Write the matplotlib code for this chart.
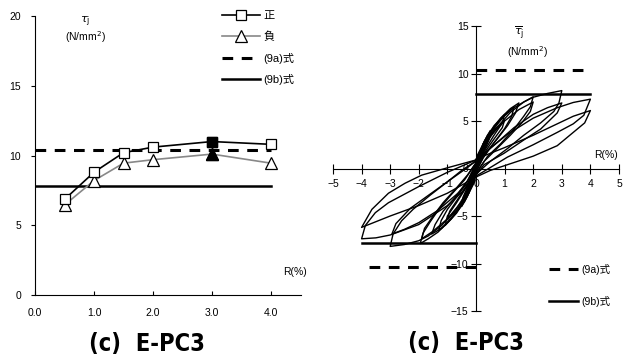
import matplotlib
matplotlib.use('Agg')
import matplotlib.pyplot as plt

plt.rcParams['font.family'] = ['Liberation Sans', 'Noto Sans CJK JP', 'DejaVu Sans']
plt.rcParams['font.size'] = 7.5

# left chart: joint shear stress vs drift
R_levels = [0.5, 1.0, 1.5, 2.0, 3.0, 4.0]
tau_pos = [6.85, 8.8, 10.2, 10.6, 11.0, 10.8]
tau_neg = [6.45, 8.2, 9.45, 9.7, 10.1, 9.45]
max_idx = 4          # filled marker (max. point)

eq_9a = 10.4
eq_9b = 7.8
eq_R = [0.0, 4.0]

# right chart: hysteresis loops, (R, tau)
# each cycle: + loading, + unloading, - loading, - unloading
loop_025 = [(0, 0), (0.1, 1.3), (0.2, 2.2), (0.25, 2.6), (0.2, 1.9), (0.1, 0.9), (0, 0),
            (-0.1, -1.3), (-0.2, -2.2), (-0.25, -2.6), (-0.2, -1.9), (-0.1, -0.9), (0, 0)]
loop_05a = [(0, 0), (0.15, 1.7), (0.3, 2.9), (0.5, 4.0), (0.45, 3.3), (0.25, 1.8), (0, 0),
            (-0.15, -1.7), (-0.3, -2.9), (-0.5, -4.0), (-0.45, -3.3), (-0.25, -1.8), (0, 0)]
loop_05b = [(0, 0), (0.15, 1.5), (0.3, 2.6), (0.5, 3.6), (0.45, 3.0), (0.25, 1.6), (0, 0),
            (-0.15, -1.5), (-0.3, -2.6), (-0.5, -3.6), (-0.45, -3.0), (-0.25, -1.6), (0, 0)]
loop_10a = [(0, 0.4), (0.28, 2.8), (0.63, 4.5), (1.0, 5.7),
            (0.92, 4.8), (0.63, 3.5), (0.28, 1.8), (0, 0.0),
            (-0.3, -2.9), (-0.68, -4.7), (-1.08, -6.0),
            (-1.0, -5.0), (-0.68, -3.6), (-0.3, -1.8), (0, 0.3)]
loop_10b = [(0, 0.3), (0.3, 2.6), (0.65, 4.1), (1.0, 5.1),
            (0.92, 4.3), (0.63, 3.1), (0.28, 1.6), (0, -0.1),
            (-0.3, -2.7), (-0.65, -4.3), (-1.0, -5.4),
            (-0.92, -4.5), (-0.63, -3.2), (-0.28, -1.6), (0, 0.4)]
loop_15a = [(0, 0.5), (0.05, 1.4), (0.4, 3.5), (0.86, 5.3), (1.2, 6.3), (1.5, 6.9),
            (1.38, 5.85), (1.1, 4.5), (0.74, 3.1), (0.28, 1.4), (0, -0.4),
            (-0.05, -1.4), (-0.4, -3.5), (-0.86, -5.3), (-1.2, -6.3), (-1.55, -6.9),
            (-1.43, -5.9), (-1.15, -4.5), (-0.75, -3.1), (-0.3, -1.3), (0, 0.5)]
loop_15b = [(0, 0.5), (0.4, 3.2), (0.8, 4.9), (1.1, 5.9), (1.33, 6.5),
            (1.25, 5.5), (1.0, 4.2), (0.6, 2.6), (0.25, 1.1), (0, -0.3),
            (-0.4, -3.3), (-0.8, -5.0), (-1.1, -6.0), (-1.3, -6.5),
            (-1.22, -5.5), (-1.0, -4.3), (-0.6, -2.7), (-0.25, -1.1), (0, 0.5)]
loop_20a = [(0, 0.6), (0.1, 1.6), (0.5, 3.8), (0.98, 5.5), (1.33, 6.4), (1.67, 7.0), (2.0, 7.55),
            (1.9, 6.5), (1.67, 5.5), (1.33, 4.15), (0.86, 2.6), (0.4, 1.26), (0, -0.5),
            (-0.1, -1.6), (-0.5, -3.9), (-1.0, -5.7), (-1.33, -6.7), (-1.67, -7.4), (-1.95, -7.9),
            (-1.85, -6.8), (-1.6, -5.6), (-1.3, -4.3), (-0.85, -2.7), (-0.4, -1.2), (0, 0.6)]
loop_20b = [(0, 0.6), (0.5, 3.4), (1.0, 5.0), (1.5, 6.2), (2.0, 7.0),
            (1.9, 6.0), (1.6, 4.8), (1.2, 3.5), (0.7, 2.0), (0.3, 0.8), (0, -0.5),
            (-0.5, -3.5), (-1.0, -5.3), (-1.5, -6.6), (-1.9, -7.4),
            (-1.8, -6.3), (-1.5, -5.0), (-1.15, -3.6), (-0.7, -2.1), (-0.3, -0.7), (0, 0.6)]
loop_30a = [(0, 0.7), (0.3, 2.4), (0.7, 4.2), (1.2, 5.9), (1.67, 7.0), (2.0, 7.5), (2.5, 7.9), (3.0, 8.2),
            (2.9, 6.9), (2.72, 6.0), (2.26, 4.8), (1.67, 3.5), (1.1, 2.1), (0.5, 0.75), (0, -0.6),
            (-0.3, -2.4), (-0.7, -4.3), (-1.2, -6.0), (-1.67, -7.1), (-2.0, -7.6), (-2.5, -8.0),
            (-3.0, -8.2),
            (-2.9, -6.9), (-2.6, -5.5), (-2.2, -4.3), (-1.6, -2.8), (-1.0, -1.4), (-0.5, -0.2), (0, 0.8)]
loop_30b = [(0, 0.8), (0.63, 2.45), (1.33, 4.3), (2.0, 5.7), (2.5, 6.4), (3.0, 6.9),
            (2.84, 5.85), (2.26, 4.15), (1.67, 3.0), (0.98, 1.6), (0.28, 0.4), (0, -0.7),
            (-0.63, -2.6), (-1.33, -4.4), (-2.0, -5.7), (-2.5, -6.4), (-2.94, -6.9),
            (-2.8, -5.8), (-2.3, -4.2), (-1.7, -2.9), (-1.0, -1.4), (-0.3, 0.1), (0, 0.8)]
loop_40a = [(0, 0.9), (0.4, 1.9), (1.1, 3.6), (2.0, 5.3), (2.84, 6.4), (3.4, 6.95), (4.0, 7.3),
            (3.77, 5.6), (3.4, 4.7), (2.84, 3.8), (2.0, 2.5), (1.1, 1.2), (0.5, 0.1), (0, -0.8),
            (-0.5, -2.5), (-1.0, -3.9), (-2.0, -5.9), (-3.0, -7.0), (-3.5, -7.3), (-4.0, -7.4),
            (-3.87, -6.0), (-3.52, -4.65), (-3.06, -3.6), (-2.0, -1.9), (-1.0, -0.4), (0, 0.9)]
loop_40b = [(0, 1.0), (0.5, 1.6), (1.0, 2.2), (2.0, 3.5), (2.84, 4.7), (3.4, 5.5), (4.0, 6.1),
            (3.8, 4.8), (3.4, 3.8), (2.84, 2.4), (2.0, 1.3), (1.0, 0.3), (0.5, -0.2), (0, -0.9),
            (-1.0, -2.6), (-2.0, -3.9), (-3.0, -5.0), (-3.5, -5.6), (-4.0, -6.2),
            (-3.64, -4.3), (-3.06, -2.6), (-2.48, -1.55), (-1.9, -0.7), (-0.97, 0.1), (0, 0.9)]

loops = [loop_025, loop_05a, loop_05b, loop_10a, loop_10b, loop_15a, loop_15b,
         loop_20a, loop_20b, loop_30a, loop_30b, loop_40a, loop_40b]

fig = plt.figure(figsize=(6.27, 3.61), dpi=100)

# ---------------- left ----------------
ax1 = fig.add_axes([35/627, 66/361, 265.5/627, 279/361])
ax1.plot(R_levels, tau_pos, color='black', lw=1.2, marker='s', ms=7,
         mfc='white', mec='black', mew=0.9, label='正', zorder=4)
ax1.plot(R_levels, tau_neg, color='#888888', lw=1.2, marker='^', ms=8,
         mfc='white', mec='black', mew=0.9, label='負', zorder=3)
ax1.plot(R_levels[max_idx], tau_pos[max_idx], 's', ms=7, color='black', zorder=5)
ax1.plot(R_levels[max_idx], tau_neg[max_idx], '^', ms=8, color='black', zorder=5)
ax1.plot(eq_R, [eq_9a, eq_9a], color='black', lw=2.2, dashes=(3.5, 2.8), label='(9a)式', zorder=2)
ax1.plot(eq_R, [eq_9b, eq_9b], color='black', lw=1.8, label='(9b)式', zorder=2)

ax1.set_xlim(0, 4.5)
ax1.set_ylim(0, 20)
ax1.set_xticks([0, 1, 2, 3, 4])
ax1.set_xticklabels(['0.0', '1.0', '2.0', '3.0', '4.0'])
ax1.set_yticks([0, 5, 10, 15, 20])
ax1.spines['top'].set_visible(False)
ax1.spines['right'].set_visible(False)
ax1.tick_params(axis='x', direction='in', length=3, pad=9)
ax1.tick_params(axis='y', direction='out', length=3, pad=7)
ax1.text(0.85, 19.6, r'$\tau_{\rm j}$', ha='center', va='center', fontsize=8)
ax1.text(0.85, 18.5, '(N/mm$^2$)', ha='center', va='center', fontsize=7.5)
ax1.text(4.4, 1.65, 'R(%)', ha='center', va='center', fontsize=7.5)
ax1.legend(loc='upper left', bbox_to_anchor=(222/627, 350/361), bbox_transform=fig.transFigure,
           frameon=False, fontsize=8, handlelength=3.4, handletextpad=0.3,
           labelspacing=0.95, borderpad=0, borderaxespad=0)

# ---------------- right ----------------
ax2 = fig.add_axes([333/627, 50/361, 286/627, 285/361])
for lp in loops:
    ax2.plot([p[0] for p in lp], [p[1] for p in lp], color='black', lw=1.0,
             solid_joinstyle='round')
ax2.plot(eq_R, [eq_9a, eq_9a], color='black', lw=2.2, dashes=(3.5, 2.8), label='(9a)式')
ax2.plot([-r for r in eq_R], [-eq_9a, -eq_9a], color='black', lw=2.2, dashes=(3.5, 2.8))
ax2.plot(eq_R, [eq_9b, eq_9b], color='black', lw=1.8, label='(9b)式')
ax2.plot([-r for r in eq_R], [-eq_9b, -eq_9b], color='black', lw=1.8)

ax2.set_xlim(-5, 5)
ax2.set_ylim(-15, 15)
ax2.set_xticks(range(-5, 6))
ax2.set_yticks(range(-15, 16, 5))
ax2.spines['left'].set_position('zero')
ax2.spines['bottom'].set_position('zero')
ax2.spines['top'].set_visible(False)
ax2.spines['right'].set_visible(False)
ax2.tick_params(axis='both', direction='inout', length=7)
ax2.tick_params(axis='x', pad=4)
ax2.tick_params(axis='y', pad=2)
ax2.text(1.5, 14.2, r'$\overline{\tau}_{\rm j}$', ha='center', va='center', fontsize=8)
ax2.text(1.8, 12.3, '(N/mm$^2$)', ha='center', va='center', fontsize=7.5)
ax2.text(4.55, 1.4, 'R(%)', ha='center', va='center', fontsize=7.5)
ax2.legend(loc='upper left', bbox_to_anchor=(549/627, 97/361), bbox_transform=fig.transFigure,
           frameon=False, fontsize=7.5, handlelength=2.8, handletextpad=0.3,
           labelspacing=2.0, borderpad=0, borderaxespad=0)

title_font = ['DejaVu Sans']
fig.text(147/627, 1 - 344/361, '(c)  E-PC3', ha='center', va='center', fontsize=17,
         fontweight='bold', fontstretch='condensed', family=title_font)
fig.text(466/627, 1 - 343/361, '(c)  E-PC3', ha='center', va='center', fontsize=17,
         fontweight='bold', fontstretch='condensed', family=title_font)

fig.savefig('out.png', dpi=100)
